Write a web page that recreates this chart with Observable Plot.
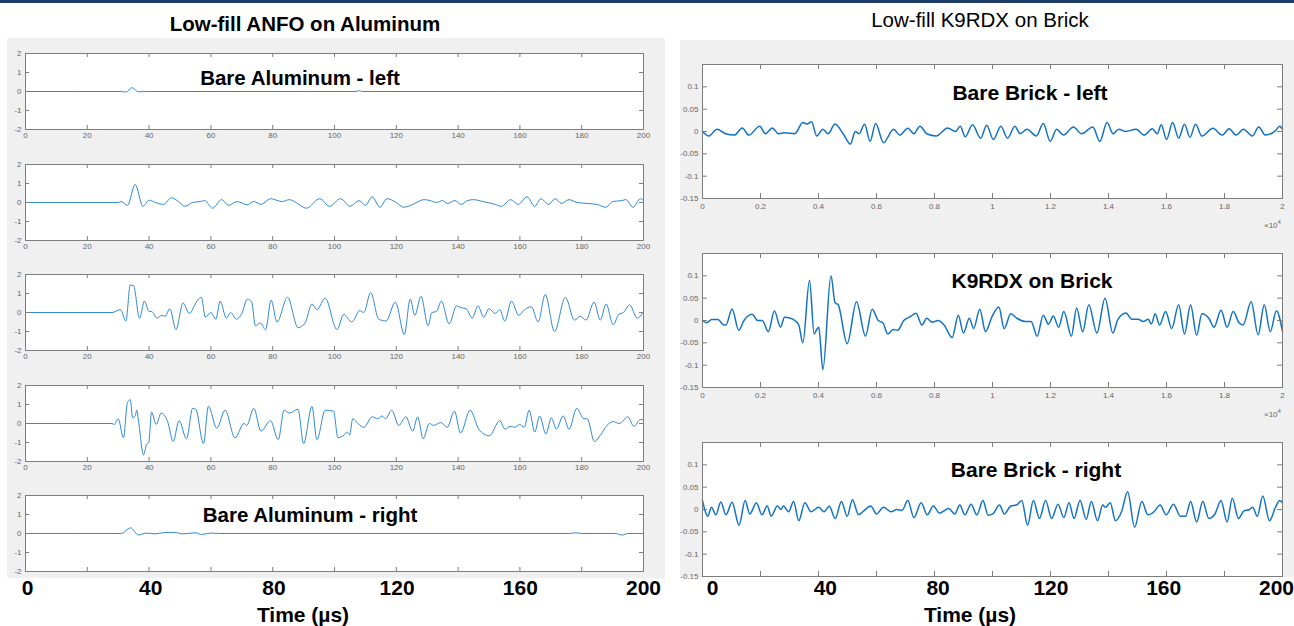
<!DOCTYPE html>
<html><head><meta charset="utf-8">
<script src="https://cdn.jsdelivr.net/npm/d3@7"></script>
<script src="https://cdn.jsdelivr.net/npm/@observablehq/plot@0.6"></script>
<style>
html,body{margin:0;padding:0;background:#fff;}
body{width:1294px;height:626px;position:relative;overflow:hidden;font-family:"Liberation Sans",Arial,sans-serif;}
.abs{position:absolute;}
.panel{position:absolute;background:#f0f0f0;}
.lbl{position:absolute;font-weight:bold;font-size:20.5px;color:#000;white-space:nowrap;transform:translate(-50%,-50%);line-height:1;}
.pb{position:absolute;}
.pb svg{background:transparent !important;overflow:visible;}
.e4{position:absolute;font-size:8px;color:#666;white-space:nowrap;}
.e4 sup{font-size:6px;}
</style></head><body>
<div class="abs" style="left:0;top:0;width:1294px;height:3px;background:#1f3d68"></div>
<div class="lbl" style="left:305px;top:24px;">Low-fill ANFO on Aluminum</div>
<div class="lbl" style="left:980px;top:20px;font-weight:normal;font-size:20.5px;">Low-fill K9RDX on Brick</div>
<div class="panel" style="left:7px;top:38px;width:658px;height:540px"></div>
<div class="panel" style="left:680px;top:40px;width:614px;height:537px"></div>
<div id="root"></div>
<script>
// ---------- data ----------
const aluXTicks = [0,20,40,60,80,100,120,140,160,180,200];
const aluYTicks = [-2,-1,0,1,2];
const brickXTicks = [0,0.2,0.4,0.6,0.8,1,1.2,1.4,1.6,1.8,2];
const brickYTicks = [-0.15,-0.1,-0.05,0,0.05,0.1];
const bigXTicks = [0,40,80,120,160,200];
const leftTitles = ["Bare Aluminum - left", "", "", "", "Bare Aluminum - right"];
const rightTitles = ["Bare Brick - left", "K9RDX on Brick", "Bare Brick - right"];

const aluLeft = [[0,0],[31,0],[32.5,-0.03],[34.5,0.2],[36.5,-0.01],[40,0],[107,0],[108,0.05],[109,0],[200,0]];
const anfoA = [[0,0],[30,0],[31,0.05],[33,-0.15],[35.5,0.95],[38,-0.2],[40,0.12],[42,0],[44.6,-0.1],[47.3,0.25],[49.5,0.05],[51.7,-0.2],[54,0],[56.5,0.05],[58,0.1],[60.5,-0.3],[63.5,0.15],[65.7,-0.15],[68.5,0.05],[71.7,-0.12],[73.9,0.05],[76.2,-0.1],[79.3,0.2],[83,0.05],[85.4,0.15],[88,-0.05],[90.9,-0.3],[95.2,0.2],[98.4,-0.2],[102,0.2],[105,-0.2],[108,0.1],[110,-0.15],[112.2,0.3],[114.7,-0.25],[117,0.2],[120,0],[122.4,-0.25],[126,-0.05],[129,0.15],[131,0.1],[133,0],[135,0.1],[136.5,-0.05],[139,0.1],[141,-0.1],[143,0.1],[145,0.15],[148,0.05],[152,-0.1],[154,-0.2],[157,0.15],[159.5,-0.1],[162.3,0.3],[164.8,-0.2],[166.8,0.2],[169.3,-0.1],[171.4,0.2],[173.5,-0.05],[175.9,0.15],[178.5,0],[182,-0.05],[185,-0.1],[187.8,-0.25],[190,0.05],[193,0.1],[194.3,0.15],[196.6,-0.25],[199,0.2],[200,0.1]];
const anfoB = [[0,0],[28,0],[30.7,0.15],[32.5,-0.45],[33.9,1.45],[35,1.4],[36.9,-0.3],[38.5,0.6],[40,0.05],[40.8,0.05],[42.6,-0.3],[44,-0.15],[45.2,-0.2],[46.7,0.2],[48.7,-0.9],[51,0.5],[53,-0.05],[55.5,0.6],[56.9,0.8],[58.2,-0.25],[60,0],[61.6,-0.35],[63,0.6],[65,-0.3],[66.4,0],[68.2,-0.35],[70,-0.05],[71.8,0.7],[73.2,0.55],[74.4,-0.7],[76,-0.55],[77.7,-0.9],[79.5,0.65],[81.4,-0.5],[84.8,0.8],[88.2,-0.8],[90.5,-0.55],[92.7,0.45],[94.3,0.15],[97,0.75],[100.8,-0.9],[103,-0.1],[105.6,-0.5],[108.2,0.1],[109.5,0],[111.7,1.05],[114.3,-0.35],[116.7,-0.45],[119.7,0.55],[122.6,-1.15],[124.5,0.7],[126,-0.15],[128,0.85],[130.3,-0.7],[131.5,0],[133,0.05],[134.6,0.6],[137.1,-0.6],[139.5,0.35],[141,0.25],[142.6,0.2],[144.6,-0.3],[146.4,0.35],[148.3,-0.25],[150,0.2],[152,-0.05],[153.5,0.15],[155.1,-0.45],[157.3,0.6],[159.6,-0.15],[161.5,0.15],[163.7,0.3],[165.9,-0.5],[168.2,0.95],[171.2,-1.0],[174.7,0.8],[177.7,-0.4],[179.5,-0.2],[181.4,-0.4],[184,0.55],[186,-0.4],[187.9,0.45],[190.2,-0.65],[192,-0.1],[193.5,0],[195.5,0.4],[198,-0.3],[200,0.05]];
const anfoC = [[0,0],[28,0],[28.7,-0.05],[30,0.25],[31.7,-0.75],[33,1.1],[33.9,1.25],[34.7,0.3],[35.5,0.4],[36,0.7],[36.6,0.1],[38.2,-1.65],[39.2,-1.1],[39.9,-1.0],[40.8,0.6],[42.3,-0.05],[43.9,0.55],[46,0.1],[47.8,-0.95],[49.7,0.15],[52.1,-0.8],[54.1,0.8],[55.1,0.75],[57.6,-1.05],[59.2,0.9],[61.9,-0.25],[64.6,0.7],[67.8,-0.75],[70.7,0],[71.6,-0.1],[73.9,0.8],[76.2,-0.4],[79.3,0.15],[81.8,-0.85],[83.7,0.7],[85.4,0.55],[88.2,0.75],[90,-1.05],[92.7,0.9],[94.3,-0.85],[97,0.7],[99.7,0.65],[101.1,-0.75],[103.1,-0.6],[104.1,-0.45],[104.9,-0.6],[105.9,0.25],[107.6,0],[109.5,-0.2],[112.2,0.35],[114,0.25],[115.4,0.4],[116.5,0.25],[118.5,0.7],[120.8,-0.1],[123.1,0.35],[125.3,-0.4],[126.9,0.35],[128.7,-0.8],[130.7,0],[132.1,-0.1],[134.4,0.05],[136.5,-0.2],[138.8,0.65],[140.8,-0.5],[143.9,0.7],[146.7,-0.3],[150.1,-0.65],[153.5,0.15],[155.2,-0.3],[156.9,-0.15],[158.3,-0.2],[159.9,-0.05],[161.4,-0.2],[163,0.7],[164.8,-0.45],[166.4,0.4],[168.4,-0.55],[170.2,0.3],[171.8,-0.3],[174,0.4],[175.9,-0.3],[178.4,0.8],[180.7,0.25],[181.8,0.25],[184.1,-0.95],[186.1,-0.6],[188.2,-0.1],[190.2,0.1],[192.2,0],[194.9,0.35],[196.9,-0.15],[199,0.2],[200,0.2]];
const aluRight = [[0,0],[31,0],[34,0.3],[36.5,-0.08],[39,0.02],[42,-0.02],[45,0.05],[48,0.06],[51,-0.02],[55,0.04],[57,-0.05],[60,0.02],[63,0],[176,0],[178,0.04],[180,0],[191,0],[193,-0.08],[195,0],[200,0]];

const brickLeft = [[0,0],[0.022,-0.01],[0.05,0.005],[0.08,-0.005],[0.11,-0.008],[0.137,0.008],[0.16,-0.008],[0.197,0.012],[0.217,-0.005],[0.241,0.008],[0.262,-0.005],[0.283,-0.003],[0.318,-0.005],[0.346,0.02],[0.36,0.017],[0.376,0.022],[0.394,-0.01],[0.415,0.005],[0.433,-0.005],[0.457,0.017],[0.485,-0.005],[0.51,-0.028],[0.527,0],[0.54,-0.005],[0.559,0.016],[0.578,-0.022],[0.597,0.018],[0.624,-0.025],[0.659,0.005],[0.68,-0.008],[0.708,0.007],[0.729,-0.005],[0.75,0.012],[0.773,-0.005],[0.806,-0.01],[0.845,0.008],[0.872,0],[0.889,0.012],[0.906,-0.012],[0.931,0.015],[0.959,-0.015],[0.98,0.014],[1.003,-0.018],[1.029,0.012],[1.052,-0.015],[1.077,0.012],[1.095,-0.005],[1.119,0.005],[1.151,-0.01],[1.175,0.018],[1.199,-0.022],[1.221,0.005],[1.245,-0.008],[1.279,0.01],[1.307,-0.005],[1.346,0.01],[1.37,-0.022],[1.395,0.02],[1.416,-0.005],[1.435,0.005],[1.46,0],[1.495,0.005],[1.523,-0.008],[1.551,0.006],[1.568,-0.005],[1.582,0.015],[1.6,-0.018],[1.621,0.02],[1.642,-0.015],[1.662,0.016],[1.681,-0.013],[1.7,0.016],[1.722,-0.01],[1.76,0.007],[1.792,-0.008],[1.816,0.006],[1.84,-0.008],[1.865,0.005],[1.896,-0.01],[1.918,0.01],[1.941,-0.008],[1.976,0.002],[1.99,0.012],[2,0.005]];
const k9rdx = [[0,0],[0.014,-0.005],[0.032,0.002],[0.053,0.002],[0.074,-0.01],[0.081,-0.01],[0.102,0.026],[0.125,-0.022],[0.143,0],[0.171,0.014],[0.19,0],[0.206,0],[0.227,-0.025],[0.248,0.021],[0.269,-0.015],[0.283,0.007],[0.304,0.005],[0.318,0],[0.332,-0.01],[0.346,-0.05],[0.369,0.09],[0.385,-0.03],[0.394,-0.02],[0.401,-0.015],[0.415,-0.11],[0.443,0.1],[0.457,0.04],[0.468,0.035],[0.499,-0.052],[0.531,0.042],[0.562,-0.035],[0.585,0.025],[0.606,0],[0.622,-0.005],[0.639,-0.03],[0.657,-0.02],[0.673,-0.022],[0.694,0],[0.715,0.008],[0.736,0.016],[0.757,-0.01],[0.773,0.005],[0.792,-0.004],[0.812,0],[0.833,-0.01],[0.861,-0.038],[0.882,0.012],[0.9,-0.028],[0.92,0.005],[0.935,-0.018],[0.956,0.025],[0.976,-0.025],[0.998,0.008],[1.022,0.03],[1.04,-0.018],[1.063,0.015],[1.084,0.005],[1.112,-0.002],[1.133,-0.002],[1.154,-0.035],[1.175,0.012],[1.193,-0.008],[1.21,0.01],[1.228,-0.015],[1.246,0.02],[1.272,-0.035],[1.29,0.028],[1.311,-0.025],[1.332,0.035],[1.36,-0.028],[1.388,0.05],[1.415,-0.028],[1.432,0.002],[1.46,0.017],[1.481,0.003],[1.502,0.003],[1.52,-0.002],[1.537,0.003],[1.548,-0.008],[1.561,0.015],[1.576,-0.01],[1.597,0.02],[1.618,-0.018],[1.642,0.035],[1.662,-0.03],[1.683,0.035],[1.704,-0.033],[1.722,0.015],[1.746,0.005],[1.764,-0.015],[1.788,0.023],[1.809,-0.015],[1.83,0.02],[1.85,-0.005],[1.864,-0.01],[1.892,0.042],[1.916,-0.032],[1.937,0.035],[1.958,-0.025],[1.979,0.022],[2,-0.025]];
const brickRight = [[0,0.02],[0.01,-0.005],[0.018,-0.015],[0.031,0.005],[0.046,-0.012],[0.063,0.017],[0.081,-0.012],[0.102,0.016],[0.126,-0.035],[0.147,0.02],[0.163,-0.01],[0.186,0.015],[0.205,-0.012],[0.223,0.008],[0.237,-0.015],[0.258,0.008],[0.27,0],[0.279,0.008],[0.297,-0.005],[0.314,0.018],[0.332,-0.025],[0.353,0.015],[0.374,-0.005],[0.401,0.005],[0.419,-0.005],[0.437,0.007],[0.458,-0.02],[0.479,0.018],[0.499,-0.015],[0.517,0.022],[0.538,-0.012],[0.556,-0.003],[0.58,0.008],[0.6,-0.01],[0.624,0.005],[0.65,-0.005],[0.67,0],[0.688,-0.002],[0.708,0.02],[0.729,-0.018],[0.754,0.015],[0.775,-0.012],[0.796,0.008],[0.817,-0.008],[0.849,0.002],[0.87,-0.01],[0.887,0.01],[0.905,-0.012],[0.926,0.012],[0.946,-0.012],[0.967,0.02],[0.985,-0.013],[1.001,-0.01],[1.024,0.01],[1.041,-0.01],[1.063,0.008],[1.083,0.01],[1.101,0.02],[1.121,-0.035],[1.141,0.02],[1.162,-0.02],[1.183,0.02],[1.204,-0.02],[1.226,0.012],[1.246,-0.018],[1.264,0.015],[1.281,-0.02],[1.302,0.02],[1.323,-0.022],[1.341,0.018],[1.362,-0.025],[1.38,0.01],[1.39,0.005],[1.406,0.015],[1.424,-0.025],[1.445,-0.005],[1.466,0.04],[1.49,-0.04],[1.515,0.018],[1.536,-0.012],[1.557,-0.005],[1.578,0.01],[1.599,-0.012],[1.624,0.012],[1.648,-0.015],[1.666,-0.015],[1.683,0.018],[1.704,-0.028],[1.725,0.018],[1.746,-0.02],[1.767,-0.01],[1.788,0.02],[1.809,-0.028],[1.827,0.025],[1.848,-0.02],[1.867,-0.003],[1.886,0],[1.897,0.005],[1.913,-0.015],[1.932,0.03],[1.955,-0.025],[1.976,0.005],[1.99,0.02],[2,0.015]];

const leftSeries = [aluLeft, anfoA, anfoB, anfoC, aluRight];
const rightSeries = [brickLeft, k9rdx, brickRight];

// ---------- layout ----------
const root = document.getElementById("root");
const FONT = "Liberation Sans, Arial, sans-serif";
const AX = "#7d7d7d";

function place(node, left, top) {
  const d = document.createElement("div");
  d.className = "pb";
  d.style.left = left + "px"; d.style.top = top + "px";
  d.appendChild(node);
  root.appendChild(d);
}
function label(text, cx, cy, extra) {
  const d = document.createElement("div");
  d.className = "lbl";
  d.style.left = cx + "px"; d.style.top = cy + "px";
  if (extra) Object.assign(d.style, extra);
  d.textContent = text;
  document.body.appendChild(d);
}

function subplot(o) {
  const iw = o.width - o.mL - o.mR, ih = o.height - o.mT - o.mB;
  const marks = [
    Plot.frame({fill: "white", stroke: null}),
    Plot.line(o.data, {x: d => d[0], y: d => d[1], stroke: o.color, strokeWidth: o.sw, curve: "monotone-x"}),
    Plot.ruleX(o.xTicks, {stroke: AX, insetTop: ih - o.tick}),
    Plot.ruleX(o.xTicks, {stroke: AX, insetBottom: ih - o.tick}),
    Plot.ruleY(o.yTicks, {stroke: AX, insetRight: iw - o.tick}),
    Plot.ruleY(o.yTicks, {stroke: AX, insetLeft: iw - o.tick}),
    Plot.frame({stroke: AX}),
    Plot.axisY(o.yTicks, {tickSize: 0, tickPadding: 4, fontSize: 8, color: "#666", tickFormat: d => String(d), label: null})
  ];
  const xOpt = {domain: o.xDomain};
  if (o.showX) marks.push(Plot.axisX(o.xTicks, {tickSize: 0, tickPadding: o.xPad, fontSize: 8, color: "#666", tickFormat: d => String(d), label: null}));
  else xOpt.axis = null;
  const p = Plot.plot({
    width: o.width, height: o.height,
    marginLeft: o.mL, marginRight: o.mR, marginTop: o.mT, marginBottom: o.mB,
    x: xOpt, y: {domain: o.yDomain},
    style: {background: "transparent", fontFamily: FONT},
    marks
  });
  place(p, o.left, o.top);
}

// left column
const leftTops = [53, 164, 274, 385, 495];
leftSeries.forEach((data, i) => {
  subplot({data, left: 0, top: leftTops[i] - 6, width: 660, height: 98, mL: 25, mR: 17, mT: 6, mB: 16,
    xDomain: [0, 200], yDomain: [-2, 2], xTicks: aluXTicks, yTicks: aluYTicks, showX: i < 4, xPad: 3,
    color: "#3089d3", sw: 1, tick: 4});
});
// right column
const rightTops = [64, 253, 442];
rightSeries.forEach((data, i) => {
  subplot({data, left: 660, top: rightTops[i] - 6, width: 634, height: 162, mL: 42, mR: 12, mT: 6, mB: 22,
    xDomain: [0, 2], yDomain: [-0.15, 0.15], xTicks: brickXTicks, yTicks: brickYTicks, showX: i < 2, xPad: 5,
    color: "#1272c4", sw: 1.5, tick: 5});
});
// x10^4 notes
[rightTops[0], rightTops[1]].forEach(t => {
  const d = document.createElement("div");
  d.className = "e4";
  d.style.left = "1264px"; d.style.top = (t + 155) + "px";
  d.innerHTML = "×10<sup>4</sup>";
  document.body.appendChild(d);
});

// big axis labels below the panels
function bigAxis(left, width, mL, mR) {
  const p = Plot.plot({
    width, height: 32, marginLeft: mL, marginRight: mR, marginTop: 1, marginBottom: 31,
    x: {domain: [0, 200]},
    style: {background: "transparent", fontFamily: FONT},
    marks: [Plot.axisX(bigXTicks, {tickSize: 0, tickPadding: 2, fontSize: 21, fontWeight: "bold", color: "#000", label: null})]
  });
  place(p, left, 577);
}
bigAxis(0, 660, 27, 17);
bigAxis(660, 634, 52, 18);

// texts
leftTitles.forEach((t, i) => { if (t) label(t, 300 + (i === 4 ? 10 : 0), leftTops[i] + (i === 4 ? 20 : 25)); });
rightTitles.forEach((t, i) => label(t, [1030, 1032, 1036][i], rightTops[i] + [28, 27, 27][i], {fontSize: "21px"}));
label("Time (µs)", 303, 614, {fontSize: "21px"});
label("Time (µs)", 970, 614, {fontSize: "21px"});
</script>
</body></html>
